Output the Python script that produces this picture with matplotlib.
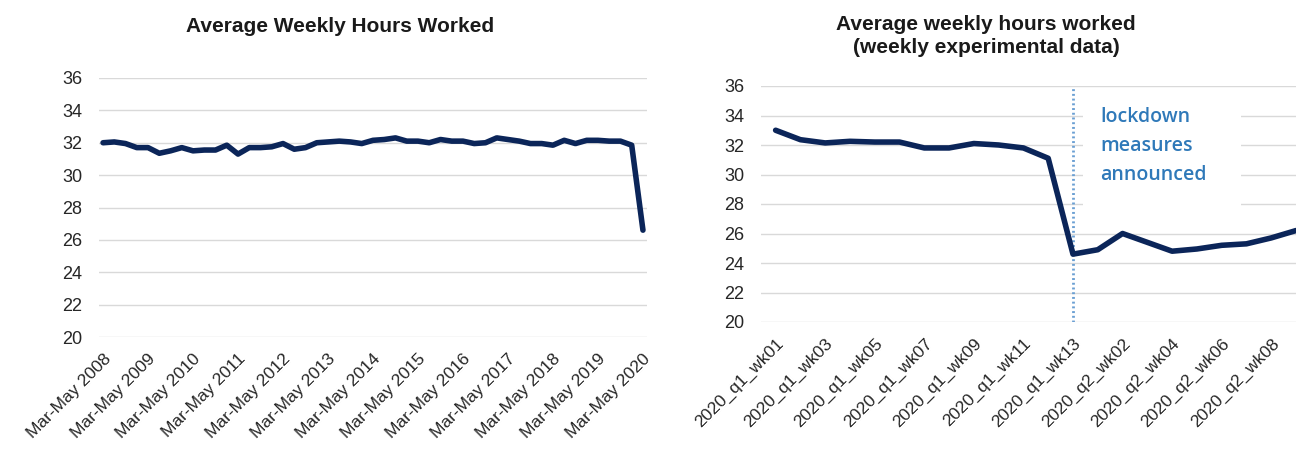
import matplotlib
matplotlib.use("Agg")
import matplotlib.pyplot as plt
from matplotlib.patches import Rectangle

plt.rcParams['font.family'] = ['Liberation Sans', 'DejaVu Sans']

# ---- Left chart data (quarterly, Mar-May 2008 .. Mar-May 2020) ----
left_values = [32.0, 32.05, 31.95, 31.7, 31.7, 31.35, 31.5, 31.7, 31.5, 31.55,
               31.55, 31.85, 31.3, 31.7, 31.7, 31.75, 31.95, 31.6, 31.7, 32.0,
               32.05, 32.1, 32.05, 31.95, 32.15, 32.2, 32.3, 32.1, 32.1, 32.0,
               32.2, 32.1, 32.1, 31.95, 32.0, 32.3, 32.2, 32.1, 31.95, 31.95,
               31.85, 32.15, 31.95, 32.15, 32.15, 32.1, 32.1, 31.85, 26.6]
left_tick_labels = ["Mar-May %d" % y for y in range(2008, 2021)]

# ---- Right chart data (weekly experimental) ----
right_categories = (["2020_q1_wk%02d" % w for w in range(1, 14)] +
                    ["2020_q2_wk%02d" % w for w in range(1, 10)])
right_values = [33.0, 32.36, 32.14, 32.25, 32.2, 32.2, 31.8, 31.8, 32.1, 32.0,
                31.8, 31.1, 24.6, 24.9, 26.0, 25.4, 24.8, 24.95, 25.2, 25.3,
                25.7, 26.2]
lockdown_week = "2020_q1_wk13"
yticks = [20, 22, 24, 26, 28, 30, 32, 34, 36]

line_color = "#0B2559"
grid_color = "#D9D9D9"
text_color = "#262626"

fig = plt.figure(figsize=(12.96, 4.49), dpi=100)

# Left axes
ax1 = fig.add_axes([99/1296, 1-337/449, 548/1296, 259/449])
x1 = list(range(len(left_values)))
ax1.plot(x1, left_values, color=line_color, lw=4.0, solid_joinstyle='round',
         solid_capstyle='round', zorder=3)
ax1.set_ylim(20, 36)
ax1.set_xlim(-0.36, len(left_values) - 1 + 0.36)
ax1.set_yticks(yticks)
ax1.set_xticks(list(range(0, len(left_values), 4)))
ax1.set_xticklabels(left_tick_labels, rotation=45, ha='right',
                    rotation_mode='anchor', fontsize=12.5, color=text_color)

# Right axes
ax2 = fig.add_axes([761/1296, 1-322/449, 1-761/1296, 236/449])
x2 = list(range(len(right_values)))
ax2.plot(x2, right_values, color=line_color, lw=4.0, solid_joinstyle='round',
         solid_capstyle='round', zorder=3)
ax2.set_ylim(20, 36)
ax2.set_xlim(-0.59, 21.0)
ax2.set_yticks(yticks)
ax2.set_xticks(list(range(0, 21, 2)))
ax2.set_xticklabels([right_categories[i] for i in range(0, 21, 2)], rotation=45,
                    ha='right', rotation_mode='anchor', fontsize=12.5, color=text_color)
lx = right_categories.index(lockdown_week)
ax2.axvline(lx, color='#6A9FD3', lw=2, ls=(0, (0.7, 1.0)), zorder=2)
ax2.add_patch(Rectangle((lx + 0.4, 27.25), 6.4, 8.15, fc='white', ec='none', zorder=1.5))
ax2.text(lx + 1.09, 31.95, "lockdown\nmeasures\nannounced", color='#2F79B9',
         fontsize=14, fontweight='semibold', family=['Open Sans', 'DejaVu Sans'],
         va='center', ha='left', linespacing=1.6, zorder=4)

for ax in (ax1, ax2):
    for s in ax.spines.values():
        s.set_visible(False)
    ax.grid(axis='y', color=grid_color, lw=1, zorder=1)
    ax.set_axisbelow(True)
    ax.tick_params(length=0)
    ax.tick_params(axis='y', labelsize=13, labelcolor=text_color, pad=12)
    ax.tick_params(axis='x', pad=10)

fig.text(340/1296, 1-27/449, "Average Weekly Hours Worked", ha='center',
         va='center', fontsize=15, fontweight='bold', color='#1a1a1a')
fig.text(986/1296, 1-36/449, "Average weekly hours worked\n(weekly experimental data)",
         ha='center', va='center', fontsize=15, fontweight='bold',
         color='#1a1a1a', linespacing=1.25)

fig.savefig("out.png", dpi=100, facecolor='white')
